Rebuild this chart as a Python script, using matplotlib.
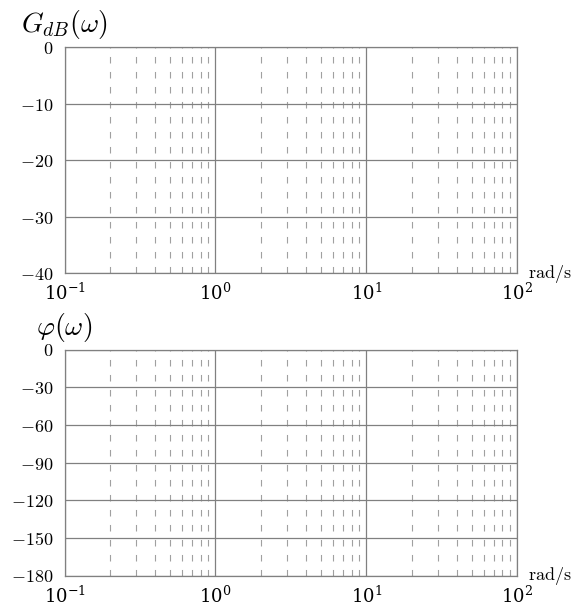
import matplotlib
matplotlib.use("Agg")
import matplotlib.pyplot as plt
from matplotlib.ticker import FixedLocator, FixedFormatter, LogLocator, NullFormatter

plt.rcParams['mathtext.fontset'] = 'cm'
plt.rcParams['font.family'] = ['DejaVu Serif']
plt.rcParams['lines.scale_dashes'] = False

# Data (axes ranges & ticks)
x_range = [0.1, 100]
mag_ticks = [0, -10, -20, -30, -40]
phase_ticks = [0, -30, -60, -90, -120, -150, -180]
mag_label = r'$G_{dB}(\omega)$'
phase_label = r'$\varphi(\omega)$'
unit_label = r'$\mathrm{rad/s}$'

fig = plt.figure(figsize=(5.75, 6.04), dpi=100)
W, H = 575, 604

def make_ax(top_px, bottom_px, ticks, title):
    left_px, right_px = 64.5, 517
    ax = fig.add_axes([left_px / W, 1 - bottom_px / H,
                       (right_px - left_px) / W, (bottom_px - top_px) / H])
    ax.set_xscale('log')
    ax.set_xlim(*x_range)
    ax.set_ylim(min(ticks), max(ticks))
    ax.yaxis.set_major_locator(FixedLocator(ticks))
    ax.yaxis.set_major_formatter(FixedFormatter([r'$%d$' % t if t == 0 else r'$-%d$' % abs(t) for t in ticks]))
    ax.xaxis.set_major_locator(LogLocator(base=10, numticks=10))
    ax.xaxis.set_minor_locator(LogLocator(base=10, subs=range(2, 10), numticks=20))
    ax.xaxis.set_minor_formatter(NullFormatter())
    ax.tick_params(which='both', length=0)
    ax.tick_params(axis='y', pad=8, labelsize=13)
    ax.tick_params(axis='x', pad=7, labelsize=13)
    for s in ax.spines.values():
        s.set_color('#808080')
        s.set_linewidth(0.9)
    ax.grid(True, which='major', color='#808080', linewidth=0.9, linestyle='-')
    ax.grid(True, which='minor', axis='x', color='#a0a0a0', linewidth=0.8,
            linestyle=(0, (4.7, 6.1)))
    ax.set_axisbelow(True)
    ax.annotate(title, xy=(0, 1), xycoords='axes fraction', xytext=(0, 10.8),
                textcoords='offset points', ha='center', va='baseline', fontsize=20)
    ax.annotate(unit_label, xy=(1, 0), xycoords='axes fraction', xytext=(8, -3.3),
                textcoords='offset points', ha='left', va='baseline', fontsize=13)
    return ax

make_ax(47, 273.3, mag_ticks, mag_label)
make_ax(349.5, 575.5, phase_ticks, phase_label)

fig.savefig('out.png', dpi=100)
